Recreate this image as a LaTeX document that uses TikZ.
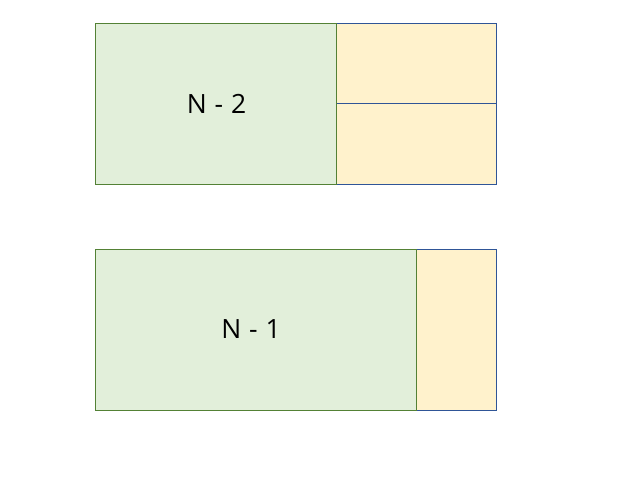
\documentclass[tikz,border=0pt]{standalone}
\usepackage{fontspec}
\setmainfont{Open Sans}
\definecolor{gfill}{HTML}{E2EFDA}
\definecolor{gline}{HTML}{538135}
\definecolor{yfill}{HTML}{FFF2CC}
\definecolor{yline}{HTML}{2F5597}
\tikzset{
  greenbox/.style={fill=gfill,draw=gline,line width=1pt},
  yellowbox/.style={fill=yfill,draw=yline,line width=1pt},
  lbl/.style={font=\fontsize{26.5}{30}\selectfont,text=black,inner sep=0pt}
}
\begin{document}
\begin{tikzpicture}[x=1pt,y=-1pt]
\useasboundingbox (0,0) rectangle (636,498);
% top
\draw[yellowbox] (336.3,23.3) rectangle (496.3,103.3);
\draw[yellowbox] (336.3,103.3) rectangle (496.3,184.3);
\draw[greenbox] (95.5,23.3) rectangle (336.3,184.3);
\node[lbl] (n2) at (216.5,103.5) {N\hspace{1pt} - \hspace{1pt}2};
% bottom
\draw[yellowbox] (416.3,249.3) rectangle (496.3,410.3);
\draw[greenbox] (95.5,249.3) rectangle (416.3,410.3);
\node[lbl] (n1) at (251,329.5) {N\hspace{1pt} - \hspace{1pt}1};
\end{tikzpicture}
\end{document}
